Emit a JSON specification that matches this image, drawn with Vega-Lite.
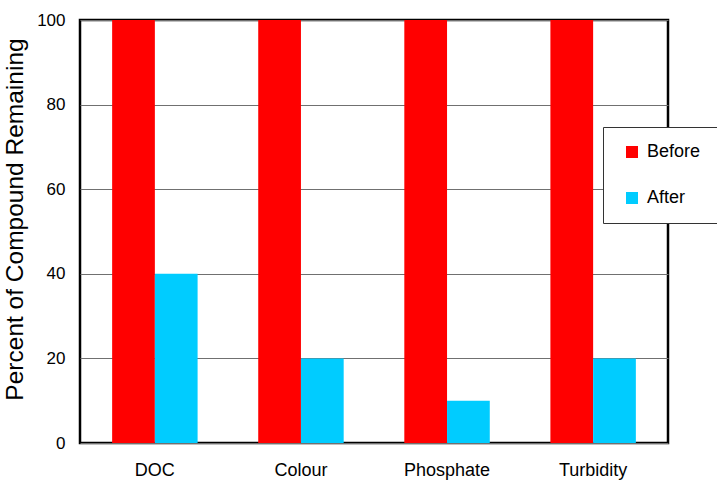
{
  "$schema": "https://vega.github.io/schema/vega-lite/v6.json",
  "autosize": {"type": "none"},
  "padding": {"left": 80, "top": 20, "right": 49, "bottom": 37},
  "width": 588,
  "height": 423,
  "background": "white",
  "config": {
    "font": "Liberation Sans",
    "view": {"stroke": "black", "strokeWidth": 2.5}
  },
  "data": {
    "values": [
      {"category": "DOC", "stage": "Before", "percent": 100},
      {"category": "DOC", "stage": "After", "percent": 40},
      {"category": "Colour", "stage": "Before", "percent": 100},
      {"category": "Colour", "stage": "After", "percent": 20},
      {"category": "Phosphate", "stage": "Before", "percent": 100},
      {"category": "Phosphate", "stage": "After", "percent": 10},
      {"category": "Turbidity", "stage": "Before", "percent": 100},
      {"category": "Turbidity", "stage": "After", "percent": 20}
    ]
  },
  "mark": {"type": "bar"},
  "encoding": {
    "x": {
      "field": "category",
      "type": "nominal",
      "sort": ["DOC", "Colour", "Phosphate", "Turbidity"],
      "scale": {"paddingInner": 0.415, "paddingOuter": 0.22},
      "axis": {
        "title": null,
        "labelAngle": 0,
        "domain": false,
        "ticks": false,
        "labelFontSize": 18,
        "labelColor": "black",
        "labelPadding": 18
      }
    },
    "xOffset": {
      "field": "stage",
      "type": "nominal",
      "sort": ["Before", "After"],
      "scale": {"paddingInner": 0, "paddingOuter": 0}
    },
    "y": {
      "field": "percent",
      "type": "quantitative",
      "scale": {"domain": [0, 100], "nice": false},
      "axis": {
        "title": "Percent of Compound Remaining",
        "titleFontSize": 24.5,
        "titleFontWeight": "normal",
        "titleColor": "black",
        "titlePadding": 9,
        "titleY": 199,
        "values": [0, 20, 40, 60, 80, 100],
        "domain": false,
        "ticks": false,
        "labelFontSize": 17,
        "labelColor": "black",
        "labelPadding": 15,
        "grid": true,
        "gridColor": "#707070",
        "gridWidth": 1.2
      }
    },
    "color": {
      "field": "stage",
      "type": "nominal",
      "sort": ["Before", "After"],
      "scale": {"domain": ["Before", "After"], "range": ["#FF0000", "#00CCFF"]},
      "legend": {
        "title": null,
        "orient": "none",
        "legendX": 523,
        "legendY": 107,
        "fillColor": "white",
        "strokeColor": "#333333",
        "padding": 16,
        "rowPadding": 28,
        "symbolType": "square",
        "symbolSize": 144,
        "symbolStrokeWidth": 0,
        "symbolOffset": 4,
        "labelFontSize": 18,
        "labelColor": "black",
        "labelOffset": 6
      }
    }
  }
}
